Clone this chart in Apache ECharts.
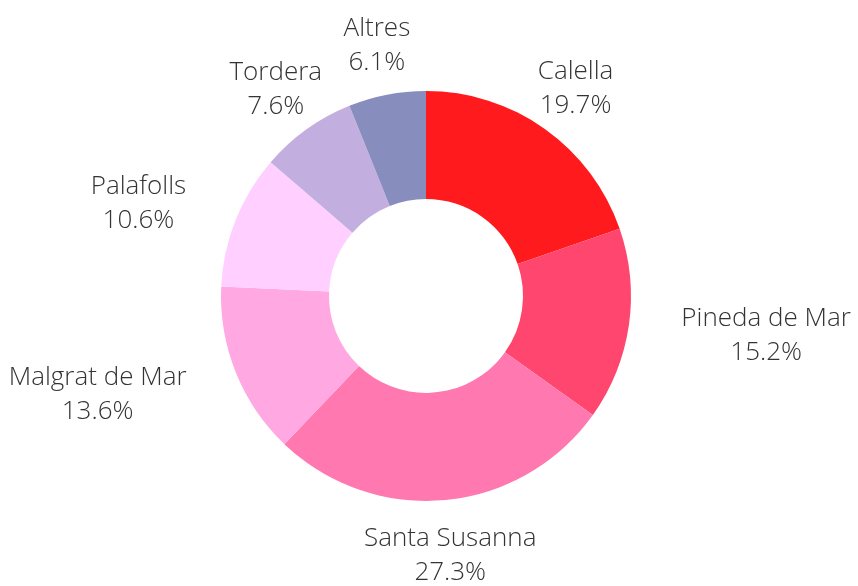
<!DOCTYPE html>
<html>
<head>
<meta charset="utf-8">
<script src="https://cdn.jsdelivr.net/npm/echarts@6/dist/echarts.min.js"></script>
<style>
  html, body { margin: 0; padding: 0; background: #fff; }
  #chart { width: 858px; height: 586px; }
</style>
</head>
<body>
<div id="chart"></div>
<script>
// municipis i percentatges
var categories = ["Calella", "Pineda de Mar", "Santa Susanna", "Malgrat de Mar", "Palafolls", "Tordera", "Altres"];
var values = [19.7, 15.2, 27.3, 13.6, 10.6, 7.6, 6.1];
var colors = ["#ff1a1e", "#ff466e", "#ff78b0", "#ffa8e2", "#ffd0ff", "#c3aee0", "#878ebd"];

var total = values.reduce(function (a, b) { return a + b; }, 0);

// angle central de cada porció (graus, en sentit horari des de dalt)
var midAngles = [];
var acc = 0;
values.forEach(function (v) {
  midAngles.push((acc + v / 2) / total * 360);
  acc += v;
});

var chart = echarts.init(document.getElementById("chart"));

chart.setOption({
  animation: false,
  color: colors,
  series: [
    {
      type: "pie",
      center: ["49.65%", "50.5%"],
      radius: [97, 205],
      startAngle: 90,
      clockwise: true,
      avoidLabelOverlap: false,
      data: categories.map(function (name, i) {
        return { name: name, value: values[i] };
      }),
      label: {
        show: true,
        position: "outside",
        distanceToLabelLine: 0,
        formatter: function (p) {
          return "{t|" + p.name + "}\n{t|" + p.value.toFixed(1) + "%}";
        },
        rich: {
          t: {
            align: "center",
            fontFamily: "Open Sans",
            fontWeight: 300,
            fontSize: 26,
            lineHeight: 34,
            color: "#333"
          }
        },
        fontFamily: "Open Sans",
        fontWeight: 300,
        fontSize: 26,
        lineHeight: 34,
        color: "#333"
      },
      labelLine: { show: false, length: 53, length2: 0 },
      labelLayout: function (params) {
        // etiquetes gairebé verticals: centrades
        var a = midAngles[params.dataIndex] * Math.PI / 180;
        if (Math.abs(Math.sin(a)) < 0.8) {
          return { align: "center", dy: 3 };
        }
        return { dy: 3 };
      },
      emphasis: { disabled: true }
    }
  ]
});
</script>
</body>
</html>
